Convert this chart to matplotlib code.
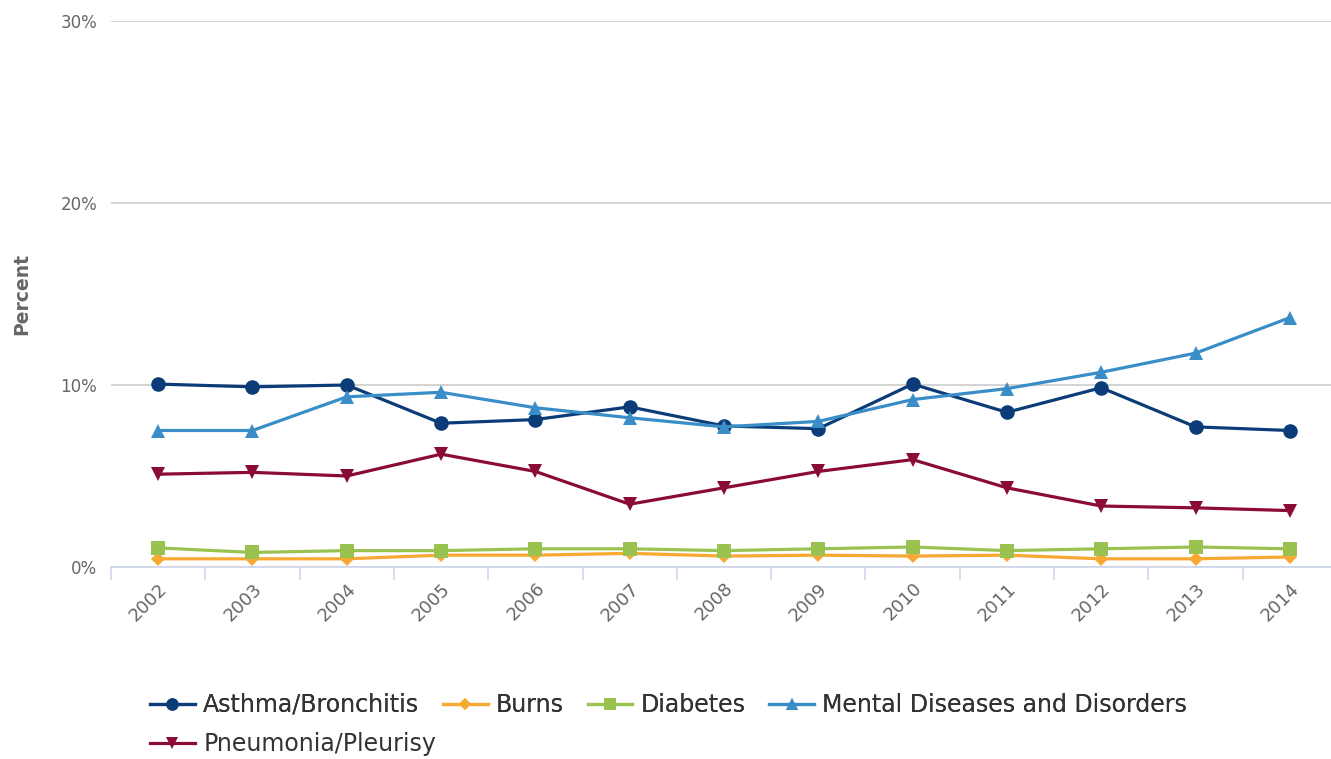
import matplotlib
matplotlib.use("Agg")
import matplotlib.pyplot as plt
from matplotlib.lines import Line2D

plt.rcParams['font.family'] = ['DejaVu Sans']

years = ["2002", "2003", "2004", "2005", "2006", "2007", "2008",
         "2009", "2010", "2011", "2012", "2013", "2014"]

asthma = [10.05, 9.9, 10.0, 7.9, 8.1, 8.8, 7.75, 7.6, 10.05, 8.5, 9.85, 7.7, 7.5]
burns = [0.45, 0.45, 0.45, 0.65, 0.65, 0.75, 0.6, 0.65, 0.6, 0.65, 0.45, 0.45, 0.55]
diabetes = [1.05, 0.8, 0.9, 0.9, 1.0, 1.0, 0.9, 1.0, 1.1, 0.9, 1.0, 1.1, 1.0]
mental = [7.5, 7.5, 9.35, 9.6, 8.75, 8.2, 7.7, 8.0, 9.2, 9.8, 10.7, 11.75, 13.7]
pneumonia = [5.1, 5.2, 5.0, 6.2, 5.25, 3.45, 4.35, 5.25, 5.9, 4.35, 3.35, 3.25, 3.1]

series = [
    ("Asthma/Bronchitis", asthma, "#0c3c78", "o", 10.5),
    ("Burns", burns, "#f7a933", "D", 7),
    ("Diabetes", diabetes, "#99c251", "s", 10),
    ("Mental Diseases and Disorders", mental, "#3a8ec8", "^", 10.5),
    ("Pneumonia/Pleurisy", pneumonia, "#8a0c35", "v", 10.5),
]

W, H = 1331, 759
fig = plt.figure(figsize=(W / 100, H / 100), dpi=100)
left, right, top, bottom = 111, 1337, 21, 567
ax = fig.add_axes([left / W, 1 - bottom / H, (right - left) / W, (bottom - top) / H])

x = list(range(len(years)))
handles = []
for name, vals, color, marker, ms in series:
    ax.plot(x, vals, color=color, lw=2.3, marker=marker, markersize=ms,
            markeredgewidth=0, zorder=3, clip_on=False)
    handles.append(Line2D([], [], color=color, lw=2.3, marker=marker,
                          markersize=ms * 0.85, markeredgewidth=0, label=name))

ax.set_xlim(-0.5, len(years) - 0.5)
ax.set_ylim(0, 30)
ax.set_yticks([0, 10, 20, 30])
ax.set_yticklabels(["0%", "10%", "20%", "30%"])
ax.yaxis.grid(True, color="#cccccc", lw=1.2)
ax.set_axisbelow(True)
for s in ["top", "right", "left"]:
    ax.spines[s].set_visible(False)
ax.spines["bottom"].set_color("#ccd6eb")
ax.spines["bottom"].set_linewidth(1.2)

ax.set_xticks([i - 0.5 for i in range(len(years) + 1)], minor=True)
ax.set_xticks(x)
ax.set_xticklabels(years, rotation=45, ha="right", rotation_mode="anchor",
                   fontsize=13, color="#666666")
ax.tick_params(axis="x", which="major", length=0, pad=9)
ax.tick_params(axis="x", which="minor", length=9, color="#ccd6eb", width=1.2)
ax.tick_params(axis="y", length=0, pad=10, labelsize=12, labelcolor="#666666")

fig.text(22 / W, 1 - 294 / H, "Percent", rotation=90, ha="center", va="center",
         fontsize=13.5, fontweight="bold", color="#666666")

legend_kw = dict(frameon=False, fontsize=17, labelcolor="#333333",
                 handlelength=1.9, handletextpad=0.35, columnspacing=1.0,
                 borderaxespad=0, borderpad=0)
leg1 = fig.legend(handles=handles[:4], ncol=4, loc="center left",
                  bbox_to_anchor=(150 / W, 1 - 705 / H), **legend_kw)
fig.add_artist(leg1)
fig.legend(handles=handles[4:], ncol=1, loc="center left",
           bbox_to_anchor=(150 / W, 1 - 744 / H), **legend_kw)

fig.savefig("out.png", dpi=100)
